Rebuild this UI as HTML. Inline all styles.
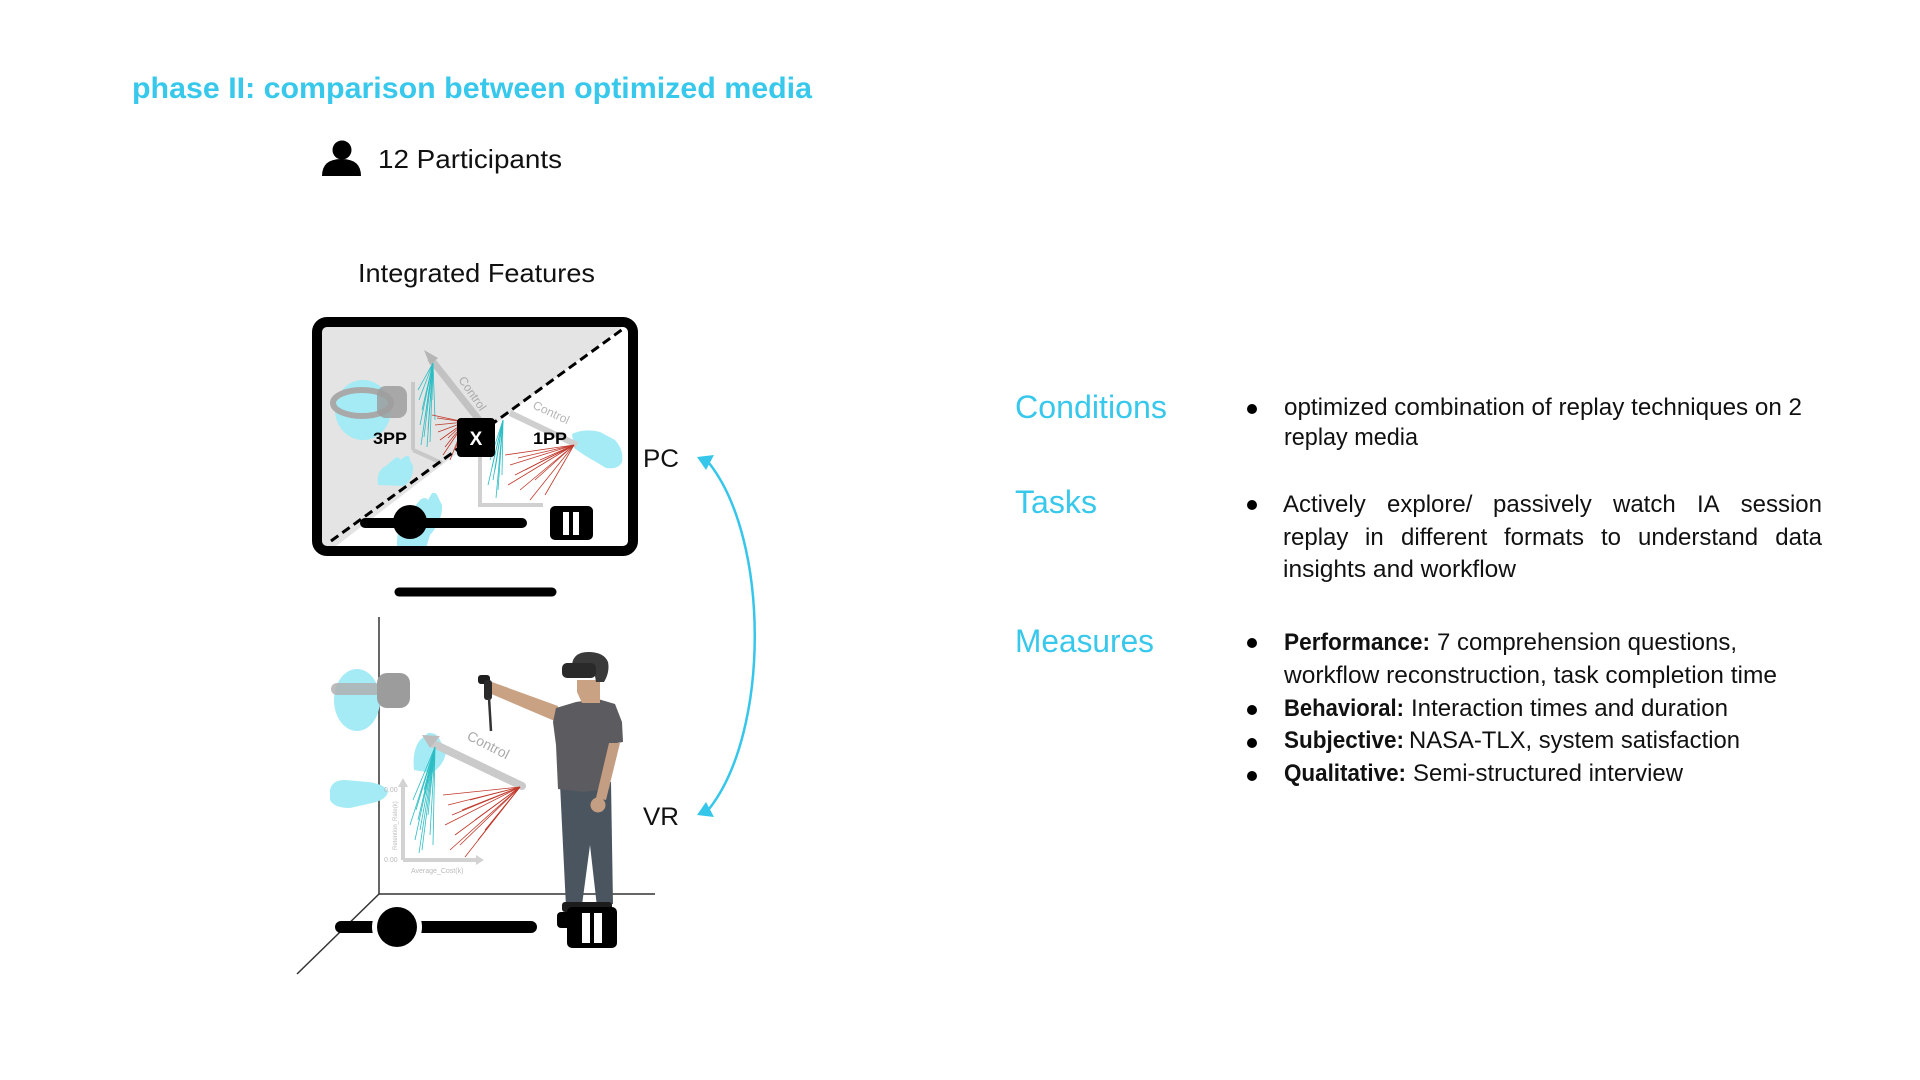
<!DOCTYPE html>
<html>
<head>
<meta charset="utf-8">
<style>
html,body{margin:0;padding:0;background:#fff;}
svg{display:block;}
text{font-family:"Liberation Sans",Arial,sans-serif;}
</style>
</head>
<body>
<svg width="1920" height="1080" viewBox="0 0 1920 1080" xmlns="http://www.w3.org/2000/svg">
<defs>
  <clipPath id="scr"><rect x="322" y="327" width="306" height="219" rx="5"/></clipPath>
</defs>
<rect width="1920" height="1080" fill="#fff"/>

<!-- Title -->
<text x="132" y="98" font-size="30" font-weight="bold" fill="#38c8ec" textLength="680" lengthAdjust="spacingAndGlyphs">phase II: comparison between optimized media</text>

<!-- Participants -->
<circle cx="342" cy="150" r="9.5" fill="#000"/>
<path d="M322 176 Q322 159 341.5 159 Q361 159 361 176 Z" fill="#000"/>
<text x="378" y="168" font-size="26" fill="#111" textLength="184" lengthAdjust="spacingAndGlyphs">12 Participants</text>

<text x="358" y="282" font-size="26" fill="#111" textLength="237" lengthAdjust="spacingAndGlyphs">Integrated Features</text>

<!-- Monitor -->
<g clip-path="url(#scr)">
  <rect x="322" y="327" width="306" height="219" fill="#fff"/>
  <polygon points="318,323 627,323 331,550 318,550" fill="#e4e4e4"/>
  <!-- 3PP ghost headset -->
  <ellipse cx="363" cy="410" rx="28" ry="30" fill="#a4ebf5"/>
  <ellipse cx="362" cy="403" rx="29" ry="13" fill="none" stroke="#a9a9a9" stroke-width="6"/>
  <rect x="377" y="386" width="30" height="32" rx="9" fill="#9d9d9d" opacity="0.85"/>
  <!-- ghost hands -->
  <path d="M378 485 Q376 470 386 466 L395 458 Q399 456 400 460 L406 456 Q410 455 410 460 L413 466 Q414 478 404 486 Z" fill="#a4ebf5"/>
  <path d="M397 548 Q396 525 408 515 L420 500 Q425 496 428 500 L432 493 Q437 492 438 497 L442 505 Q443 520 430 535 L426 548 Z" fill="#a4ebf5"/>
  <path d="M572 434 Q585 428 600 432 L615 440 Q624 450 622 462 Q618 470 606 468 L596 462 Q585 456 574 448 Z" fill="#a4ebf5"/>
  <!-- 3PP chart -->
  <line x1="413" y1="382" x2="413" y2="450" stroke="#c8c8c8" stroke-width="4"/>
  <line x1="413" y1="450" x2="442" y2="463" stroke="#c8c8c8" stroke-width="4"/>
  <line x1="430" y1="358" x2="487" y2="430" stroke="#c2c2c2" stroke-width="7"/>
  <polygon points="424,350 438,358 430,365" fill="#b5b5b5"/>
  <text x="0" y="0" font-size="12" fill="#aaa" transform="translate(458,380) rotate(55)">Control</text>
  <g stroke="#2bbdc3" stroke-width="0.8">
    <line x1="433" y1="363" x2="419" y2="400"/><line x1="433" y1="363" x2="422" y2="410"/>
    <line x1="433" y1="363" x2="425" y2="418"/><line x1="433" y1="363" x2="420" y2="425"/>
    <line x1="433" y1="363" x2="428" y2="430"/><line x1="433" y1="363" x2="424" y2="437"/>
    <line x1="433" y1="363" x2="430" y2="442"/><line x1="433" y1="363" x2="418" y2="390"/>
    <line x1="433" y1="363" x2="435" y2="420"/><line x1="433" y1="363" x2="427" y2="447"/>
    <line x1="433" y1="363" x2="432" y2="400"/><line x1="433" y1="363" x2="421" y2="445"/>
  </g>
  <g stroke="#c0392b" stroke-width="0.8">
    <line x1="465" y1="422" x2="435" y2="425"/><line x1="465" y1="422" x2="438" y2="432"/>
    <line x1="465" y1="422" x2="440" y2="440"/><line x1="465" y1="422" x2="445" y2="447"/>
    <line x1="465" y1="422" x2="437" y2="418"/><line x1="465" y1="422" x2="443" y2="455"/>
    <line x1="465" y1="422" x2="450" y2="460"/><line x1="465" y1="422" x2="432" y2="415"/>
    <line x1="465" y1="422" x2="448" y2="438"/><line x1="465" y1="422" x2="455" y2="450"/>
  </g>
  <!-- 1PP chart -->
  <line x1="480" y1="453" x2="480" y2="507" stroke="#d0d0d0" stroke-width="4"/>
  <line x1="480" y1="505" x2="543" y2="505" stroke="#d0d0d0" stroke-width="4"/>
  <line x1="510" y1="413" x2="577" y2="445" stroke="#cfcfcf" stroke-width="6"/>
  <text x="0" y="0" font-size="12" fill="#b5b5b5" transform="translate(532,408) rotate(25)">Control</text>
  <g stroke="#2bbdc3" stroke-width="0.8">
    <line x1="503" y1="420" x2="490" y2="460"/><line x1="503" y1="420" x2="495" y2="470"/>
    <line x1="503" y1="420" x2="493" y2="480"/><line x1="503" y1="420" x2="498" y2="490"/>
    <line x1="503" y1="420" x2="500" y2="455"/><line x1="503" y1="420" x2="488" y2="485"/>
    <line x1="503" y1="420" x2="496" y2="498"/><line x1="503" y1="420" x2="492" y2="467"/>
    <line x1="503" y1="420" x2="502" y2="475"/>
  </g>
  <g stroke="#c0392b" stroke-width="0.8">
    <line x1="574" y1="445" x2="505" y2="455"/><line x1="574" y1="445" x2="510" y2="465"/>
    <line x1="574" y1="445" x2="515" y2="475"/><line x1="574" y1="445" x2="520" y2="490"/>
    <line x1="574" y1="445" x2="530" y2="500"/><line x1="574" y1="445" x2="508" y2="485"/>
    <line x1="574" y1="445" x2="525" y2="470"/><line x1="574" y1="445" x2="540" y2="460"/>
    <line x1="574" y1="445" x2="535" y2="480"/><line x1="574" y1="445" x2="545" y2="495"/>
    <line x1="574" y1="445" x2="518" y2="458"/>
  </g>
  <!-- dashed diagonal -->
  <line x1="331" y1="541" x2="627" y2="326" stroke="#000" stroke-width="3" stroke-dasharray="9,5"/>
  <!-- slider -->
  <line x1="365" y1="523" x2="522" y2="523" stroke="#000" stroke-width="10" stroke-linecap="round"/>
  <circle cx="410" cy="522" r="17" fill="#000"/>
  <rect x="550" y="506" width="43" height="34" rx="5" fill="#000"/>
  <rect x="563" y="512" width="6" height="23" fill="#fff"/>
  <rect x="573" y="512" width="6" height="23" fill="#fff"/>
</g>
<rect x="317" y="322" width="316" height="229" rx="10" fill="none" stroke="#000" stroke-width="10"/>
<!-- X box and labels -->
<rect x="457" y="418" width="38" height="39" rx="4" fill="#000"/>
<text x="476" y="445" font-size="19" font-weight="bold" fill="#fff" text-anchor="middle">X</text>
<text x="373" y="444" font-size="17" font-weight="bold" fill="#000" textLength="34" lengthAdjust="spacingAndGlyphs">3PP</text>
<text x="533" y="444" font-size="17" font-weight="bold" fill="#000" textLength="34" lengthAdjust="spacingAndGlyphs">1PP</text>
<!-- stand -->
<line x1="399" y1="592" x2="552" y2="592" stroke="#000" stroke-width="9" stroke-linecap="round"/>

<!-- PC / VR labels -->
<text x="643" y="467" font-size="25" fill="#111" textLength="36" lengthAdjust="spacingAndGlyphs">PC</text>
<text x="643" y="825" font-size="25" fill="#111" textLength="36" lengthAdjust="spacingAndGlyphs">VR</text>

<!-- cyan double arrow -->
<path d="M709 463 C770 540 770 732 709 809" fill="none" stroke="#35c6ea" stroke-width="2.5"/>
<polygon points="697,457 714,455 706,470" fill="#35c6ea"/>
<polygon points="697,815 714,817 706,802" fill="#35c6ea"/>

<!-- VR scene axes -->
<line x1="379" y1="617" x2="379" y2="894" stroke="#333" stroke-width="1.5"/>
<line x1="379" y1="894" x2="655" y2="894" stroke="#333" stroke-width="1.5"/>
<line x1="379" y1="894" x2="297" y2="974" stroke="#333" stroke-width="1.5"/>

<!-- VR ghost headset -->
<ellipse cx="357" cy="700" rx="23" ry="31" fill="#a4ebf5"/>
<rect x="331" y="683" width="50" height="12" rx="6" fill="#b0b0b0" opacity="0.85"/>
<rect x="377" y="673" width="33" height="35" rx="10" fill="#9c9c9c"/>
<!-- VR ghost hands -->
<path d="M330 790 Q332 780 345 780 L368 782 Q385 784 388 792 Q386 800 372 803 L350 808 Q334 808 330 800 Z" fill="#a4ebf5"/>
<path d="M414 770 Q412 750 420 740 L428 733 Q436 732 440 740 L446 752 Q444 765 432 773 Z" fill="#a4ebf5"/>

<!-- VR chart -->
<line x1="403" y1="785" x2="403" y2="860" stroke="#d2d2d2" stroke-width="4"/>
<polygon points="398,787 408,787 403,778" fill="#d2d2d2"/>
<line x1="403" y1="860" x2="478" y2="860" stroke="#d2d2d2" stroke-width="4"/>
<polygon points="476,855 476,865 484,860" fill="#d2d2d2"/>
<line x1="432" y1="743" x2="522" y2="786" stroke="#cacaca" stroke-width="8" stroke-linecap="round"/>
<polygon points="422,735 440,736 430,748" fill="#bdbdbd"/>
<text x="0" y="0" font-size="14" fill="#aaa" transform="translate(466,739) rotate(27)">Control</text>
<text x="384" y="792" font-size="7" fill="#bbb">0.00</text>
<text x="384" y="862" font-size="7" fill="#bbb">0.00</text>
<text x="411" y="873" font-size="7" fill="#bbb">Average_Cost(k)</text>
<text x="0" y="0" font-size="6" fill="#bbb" transform="translate(397,850) rotate(-90)">Retention_Rate(k)</text>
<g stroke="#2bbdc3" stroke-width="0.8">
  <line x1="435" y1="747" x2="413" y2="800"/><line x1="435" y1="747" x2="416" y2="810"/>
  <line x1="435" y1="747" x2="418" y2="820"/><line x1="435" y1="747" x2="420" y2="830"/>
  <line x1="435" y1="747" x2="415" y2="840"/><line x1="435" y1="747" x2="422" y2="850"/>
  <line x1="435" y1="747" x2="425" y2="795"/><line x1="435" y1="747" x2="428" y2="815"/>
  <line x1="435" y1="747" x2="430" y2="835"/><line x1="435" y1="747" x2="419" y2="853"/>
  <line x1="435" y1="747" x2="424" y2="790"/><line x1="435" y1="747" x2="433" y2="845"/>
  <line x1="435" y1="747" x2="410" y2="825"/>
</g>
<g stroke="#c0392b" stroke-width="0.8">
  <line x1="520" y1="787" x2="443" y2="795"/><line x1="520" y1="787" x2="448" y2="805"/>
  <line x1="520" y1="787" x2="452" y2="815"/><line x1="520" y1="787" x2="445" y2="825"/>
  <line x1="520" y1="787" x2="455" y2="835"/><line x1="520" y1="787" x2="460" y2="845"/>
  <line x1="520" y1="787" x2="465" y2="857"/><line x1="520" y1="787" x2="470" y2="800"/>
  <line x1="520" y1="787" x2="475" y2="820"/><line x1="520" y1="787" x2="478" y2="840"/>
  <line x1="520" y1="787" x2="450" y2="850"/><line x1="520" y1="787" x2="462" y2="810"/>
  <line x1="520" y1="787" x2="485" y2="830"/>
</g>

<!-- VR person -->
<g>
  <polygon points="558,706 492,682 489,693 557,722" fill="#c9a284"/>
  <rect x="478" y="675" width="12" height="9" rx="3" fill="#1e1e1e"/>
  <rect x="484" y="680" width="8" height="20" rx="3" fill="#2a2a2a"/>
  <line x1="489" y1="698" x2="491" y2="731" stroke="#333" stroke-width="2.5"/>
  <polygon points="560,784 611,782 613,904 597,907 590,845 582,905 566,907" fill="#4a5560"/>
  <rect x="562" y="902" width="50" height="10" rx="3" fill="#1c1c1c"/>
  <path d="M556 708 L576 702 L598 699 L615 704 L622 722 L623 742 L611 744 L610 789 L583 792 L558 789 L556 745 L553 722 Z" fill="#5c5b5f"/>
  <polygon points="609,743 620,743 606,800 596,798" fill="#c49e82"/>
  <circle cx="598" cy="805" r="7.5" fill="#c49e82"/>
  <path d="M577 680 L600 680 L600 703 L582 703 L577 692 Z" fill="#c9a284"/>
  <path d="M572 664 Q574 652 588 652 Q604 652 608 662 Q610 672 604 682 L596 682 L594 670 Z" fill="#3a3a3a"/>
  <rect x="562" y="663" width="34" height="15" rx="5" fill="#2a2a2a"/>
</g>

<!-- VR slider -->
<line x1="341" y1="927" x2="531" y2="927" stroke="#000" stroke-width="12" stroke-linecap="round"/>
<circle cx="397" cy="927" r="25" fill="#fff"/>
<circle cx="397" cy="927" r="20" fill="#000"/>
<rect x="557" y="912" width="16" height="16" rx="4" fill="#000"/>
<rect x="567" y="907" width="50" height="41" rx="5" fill="#000"/>
<rect x="582" y="913" width="8" height="30" fill="#fff"/>
<rect x="594" y="913" width="8" height="30" fill="#fff"/>

<!-- Right section headings -->
<text x="1015" y="418" font-size="32" fill="#38c8ec" textLength="152" lengthAdjust="spacingAndGlyphs">Conditions</text>
<text x="1015" y="513" font-size="32" fill="#38c8ec" textLength="82" lengthAdjust="spacingAndGlyphs">Tasks</text>
<text x="1015" y="652" font-size="32" fill="#38c8ec" textLength="139" lengthAdjust="spacingAndGlyphs">Measures</text>

<!-- bullets -->
<g fill="#000">
  <circle cx="1252" cy="409" r="5"/>
  <circle cx="1252" cy="505" r="5"/>
  <circle cx="1252" cy="643" r="5"/>
  <circle cx="1252" cy="710" r="5"/>
  <circle cx="1252" cy="743" r="5"/>
  <circle cx="1252" cy="776" r="5"/>
</g>

<g font-size="24" fill="#111">
  <!-- Conditions -->
  <text x="1284" y="415" textLength="518" lengthAdjust="spacingAndGlyphs">optimized combination of replay techniques on 2</text>
  <text x="1284" y="445" textLength="134" lengthAdjust="spacingAndGlyphs">replay media</text>
  <!-- Tasks line 1 -->
  <text x="1283" y="512">Actively</text>
  <text x="1387" y="512">explore/</text>
  <text x="1493" y="512">passively</text>
  <text x="1613" y="512">watch</text>
  <text x="1697" y="512">IA</text>
  <text x="1822" y="512" text-anchor="end">session</text>
  <!-- Tasks line 2 -->
  <text x="1283" y="545">replay</text>
  <text x="1365" y="545">in</text>
  <text x="1401" y="545">different</text>
  <text x="1504" y="545">formats</text>
  <text x="1601" y="545">to</text>
  <text x="1638" y="545">understand</text>
  <text x="1822" y="545" text-anchor="end">data</text>
  <!-- Tasks line 3 -->
  <text x="1283" y="577" textLength="233" lengthAdjust="spacingAndGlyphs">insights and workflow</text>

  <!-- Measures -->
  <text x="1284" y="650" font-weight="bold" textLength="146" lengthAdjust="spacingAndGlyphs">Performance:</text>
  <text x="1437" y="650" textLength="300" lengthAdjust="spacingAndGlyphs">7 comprehension questions,</text>
  <text x="1284" y="683" textLength="493" lengthAdjust="spacingAndGlyphs">workflow reconstruction, task completion time</text>
  <text x="1284" y="716" font-weight="bold" textLength="120" lengthAdjust="spacingAndGlyphs">Behavioral:</text>
  <text x="1411" y="716" textLength="317" lengthAdjust="spacingAndGlyphs">Interaction times and duration</text>
  <text x="1284" y="748" font-weight="bold" textLength="120" lengthAdjust="spacingAndGlyphs">Subjective:</text>
  <text x="1409" y="748" textLength="331" lengthAdjust="spacingAndGlyphs">NASA-TLX, system satisfaction</text>
  <text x="1284" y="781" font-weight="bold" textLength="122" lengthAdjust="spacingAndGlyphs">Qualitative:</text>
  <text x="1413" y="781" textLength="270" lengthAdjust="spacingAndGlyphs">Semi-structured interview</text>
</g>
</svg>
</body>
</html>
